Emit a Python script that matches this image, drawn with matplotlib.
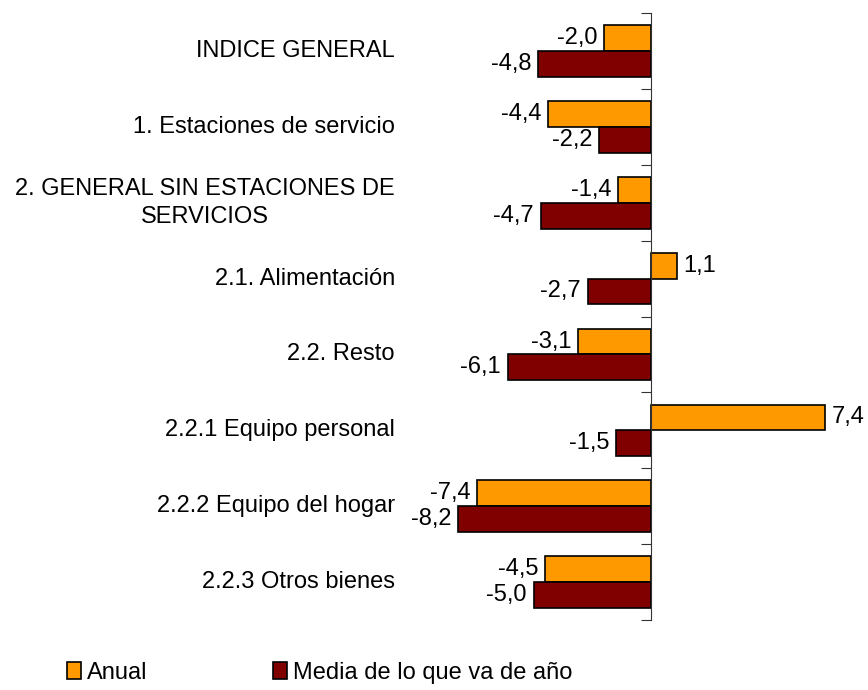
import matplotlib.pyplot as plt
from matplotlib.patches import Patch
import numpy as np

plt.rcParams['font.family'] = ['Liberation Sans', 'DejaVu Sans']

categorias = ["INDICE GENERAL", "1. Estaciones de servicio",
              "2. GENERAL SIN ESTACIONES DE\nSERVICIOS", "2.1. Alimentación",
              "2.2. Resto", "2.2.1 Equipo personal", "2.2.2 Equipo del hogar",
              "2.2.3 Otros bienes"]
anual = [-2.0, -4.4, -1.4, 1.1, -3.1, 7.4, -7.4, -4.5]
media = [-4.8, -2.2, -4.7, -2.7, -6.1, -1.5, -8.2, -5.0]
series = ["Anual", "Media de lo que va de año"]
colores = ["#FF9900", "#800000"]

FS = 17

fig = plt.figure(figsize=(8.68, 6.9), dpi=100)
ax = fig.add_axes([0.4666, 0.1014, 0.507, 0.8797])

n = len(categorias)
y = np.arange(n)
h = 0.34
ax.barh(y - h / 2, anual, height=h, color=colores[0], edgecolor='black', linewidth=1.2)
ax.barh(y + h / 2, media, height=h, color=colores[1], edgecolor='black', linewidth=1.2)

ax.set_xlim(-10.47, 8.26)
ax.set_ylim(n - 0.5, -0.5)

for s in ['top', 'right', 'bottom']:
    ax.spines[s].set_visible(False)
ax.spines['left'].set_position(('data', 0))
ax.spines['left'].set_color('#333333')
ax.set_xticks([])
ax.set_yticks(np.arange(n + 1) - 0.5)
ax.set_yticklabels([])
ax.tick_params(axis='y', direction='out', length=7, color='#333333')

def fmt(v):
    return f"{v:.1f}".replace('.', ',')

for vals, off in ((anual, -h / 2), (media, h / 2)):
    for i, v in enumerate(vals):
        ha = 'left' if v >= 0 else 'right'
        dx = 0.28 if v >= 0 else -0.28
        ax.text(v + dx, i + off, fmt(v), ha=ha, va='center', fontsize=FS)

for i, c in enumerate(categorias):
    ax.text(-10.9, i, c, ha='right', va='center', fontsize=FS,
            multialignment='center', linespacing=1.35, clip_on=False)

handles = [Patch(facecolor=colores[k], edgecolor='black', linewidth=1.2) for k in range(2)]
fig.legend(handles, series, loc='lower left', bbox_to_anchor=(0.053, -0.022), ncol=2,
           frameon=False, fontsize=FS, handlelength=0.6, handleheight=0.7,
           handletextpad=0.25, columnspacing=5.3)

fig.savefig("out.png", dpi=100)
